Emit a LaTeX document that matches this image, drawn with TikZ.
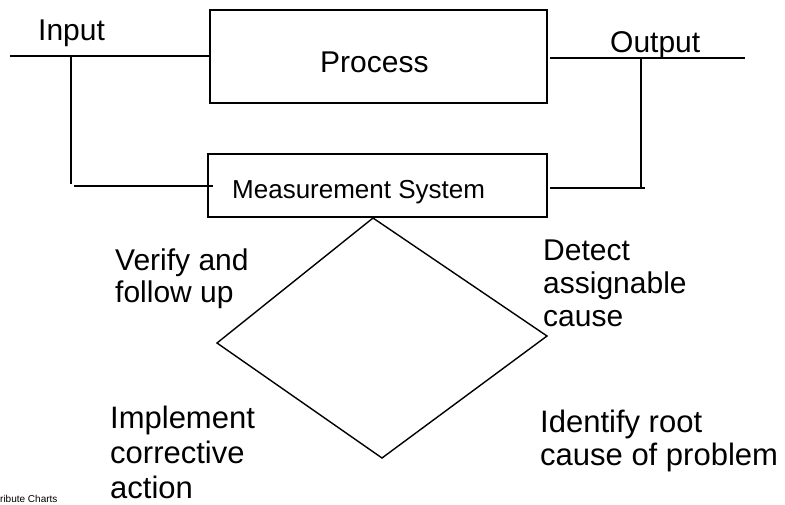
\documentclass[tikz,border=0pt]{standalone}
\usepackage{fontspec}
\setmainfont{Liberation Sans}
\begin{document}
\begin{tikzpicture}[x=1pt,y=1pt,
  ln/.style={line width=1.4pt, black},
  boxnode/.style={draw, line width=1.4pt, inner sep=0pt, anchor=center},
  txt/.style={inner sep=0pt, anchor=base west, font=\fontsize{30}{33}\selectfont},
  midtxt/.style={inner sep=0pt, anchor=base west, font=\fontsize{26}{29}\selectfont},
  smalltxt/.style={inner sep=0pt, anchor=base west, font=\fontsize{10}{11}\selectfont}]
\useasboundingbox (0,0) rectangle (785,-504);

% boxes
\node[boxnode, minimum width=337pt, minimum height=93pt] (process) at (378.5,-56.5) {};
\node[boxnode, minimum width=339pt, minimum height=63pt] (meas) at (377.5,-185.5) {};

% box texts
\node[txt] (processtxt) at (320,-72) {Process};
\node[midtxt] (meastxt) at (232,-198) {Measurement System};

% input side
\coordinate (inL) at (10,-56);
\coordinate (inJ) at (71,-56);
\coordinate (inB) at (71,-184);
\coordinate (inH) at (74,-186);
\coordinate (inE) at (213,-186);
\draw[ln] (inL) -- (process.west |- inL);
\draw[ln] (inJ) -- (inB);
\draw[ln] (inH) -- (inE);

% output side
\coordinate (outS) at (550,-58);
\coordinate (outE) at (745,-58);
\coordinate (outJ) at (641,-58);
\coordinate (outB) at (641,-188);
\coordinate (outH) at (550,-188);
\coordinate (outHE) at (645,-188);
\draw[ln] (outS) -- (outE);
\draw[ln] (outJ) -- (outB);
\draw[ln] (outH) -- (outHE);

% labels
\node[txt] (input) at (38,-40) {Input};
\node[txt] (output) at (610,-52) {Output};

% diamond
\coordinate (dT) at (373,-218);
\coordinate (dR) at (547,-336);
\coordinate (dB) at (382,-458);
\coordinate (dL) at (217,-343);
\draw[ln, line join=miter] (dT) -- (dR) -- (dB) -- (dL) -- cycle;

% cycle texts
\node[txt] (verify) at (115,-270) {\vtop{\baselineskip=32pt\hbox{Verify and}\hbox{follow up}}};
\node[txt] (detect) at (543,-260) {\vtop{\baselineskip=33pt\hbox{Detect}\hbox{assignable}\hbox{cause}}};
\node[txt, font=\fontsize{31}{34}\selectfont] (identify) at (540,-432) {\vtop{\baselineskip=33pt\hbox{Identify root}\hbox{cause of problem}}};
\node[txt, font=\fontsize{31}{34}\selectfont] (implement) at (110,-428) {\vtop{\baselineskip=35pt\hbox{Implement}\hbox{corrective}\hbox{action}}};

\node[smalltxt] (footer) at (0,-502) {ribute Charts};
\end{tikzpicture}
\end{document}
